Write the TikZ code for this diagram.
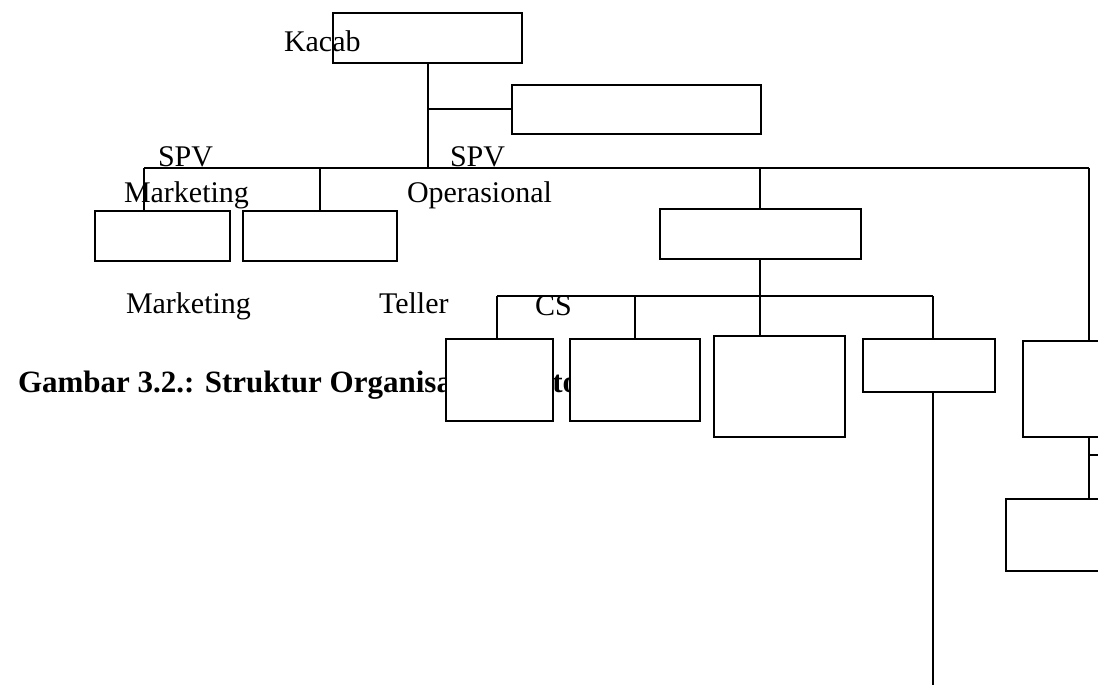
\documentclass[tikz,border=0pt]{standalone}
\usepackage{fontspec}
\setmainfont{Liberation Serif}
\begin{document}
\begin{tikzpicture}[x=0.4pt,y=-0.4pt,
  kotak/.style 2 args={draw,fill=white,line width=0.8pt,inner sep=0pt,outer sep=0pt,
    minimum width=#1*0.4pt,minimum height=#2*0.4pt},
  teks/.style={anchor=base west,inner sep=0pt,font=\fontsize{12}{14}\selectfont},
  every path/.style={line width=0.8pt}]
  \useasboundingbox (0,0) rectangle (1098,685);
  % judul gambar (sebagian tertutup kotak)
  \node[teks,font=\fontsize{12.4}{14}\selectfont\bfseries] (judul) at (17,392) {Gambar 3.2.: Struktur Organisasi \hspace{6pt}Kantor};
  % kotak
  \node[kotak={189}{50}] (kacab) at (427.5,38) {};
  \node[kotak={249}{49}] (staf) at (636.5,109.5) {};
  \node[kotak={135}{50}] (mkt1) at (162.5,236) {};
  \node[kotak={154}{50}] (mkt2) at (320,236) {};
  \node[kotak={201}{50}] (spvo) at (760,234) {};
  \node[kotak={107}{82}] (ops1) at (499.5,380) {};
  \node[kotak={130}{82}] (ops2) at (635,380) {};
  \node[kotak={131}{101}] (ops3) at (779.5,386.5) {};
  \node[kotak={132}{53}] (ops4) at (929,365.5) {};
  \node[kotak={132}{96}] (lain1) at (1089,389) {};
  \node[kotak={166}{72}] (lain2) at (1089,535) {};
  % garis
  \coordinate (kiri) at (144,168);
  \coordinate (kanan) at (1089,168);
  \coordinate (kiri2) at (497,296);
  \coordinate (kanan2) at (933,296);
  \coordinate (ujung) at (933,690);
  \coordinate (cabang) at (1110,455);
  \draw (kiri) -- (kanan);
  \draw (kacab.south) -- (kacab.south |- kiri);
  \draw (kacab.south |- staf.west) -- (staf.west);
  \draw (kiri) -- (kiri |- mkt1.north);
  \draw (mkt2.north |- kiri) -- (mkt2.north);
  \draw (spvo.north |- kiri) -- (spvo.north);
  \draw (kanan) -- (lain1.north);
  \draw (spvo.south) -- (spvo.south |- ops3.north);
  \draw (kiri2) -- (kanan2);
  \draw (kiri2) -- (kiri2 |- ops1.north);
  \draw (ops2.north |- kiri2) -- (ops2.north);
  \draw (kanan2) -- (kanan2 |- ops4.north);
  \draw (ujung |- ops4.south) -- (ujung);
  \draw (lain1.south) -- (lain2.north);
  \draw (cabang -| lain1.south) -- (cabang);
  % label jabatan
  \node[teks] (tkacab) at (283,52) {Kacab};
  \node[teks] (tspv1) at (157,167) {SPV};
  \node[teks] (tmkt) at (123,203) {Marketing};
  \node[teks] (tspv2) at (449,167) {SPV};
  \node[teks] (tops) at (406,203) {Operasional};
  \node[teks] (tmkt2) at (125,313) {Marketing};
  \node[teks] (tteller) at (378,314) {Teller};
  \node[teks] (tcs) at (534,315) {CS};
\end{tikzpicture}
\end{document}
